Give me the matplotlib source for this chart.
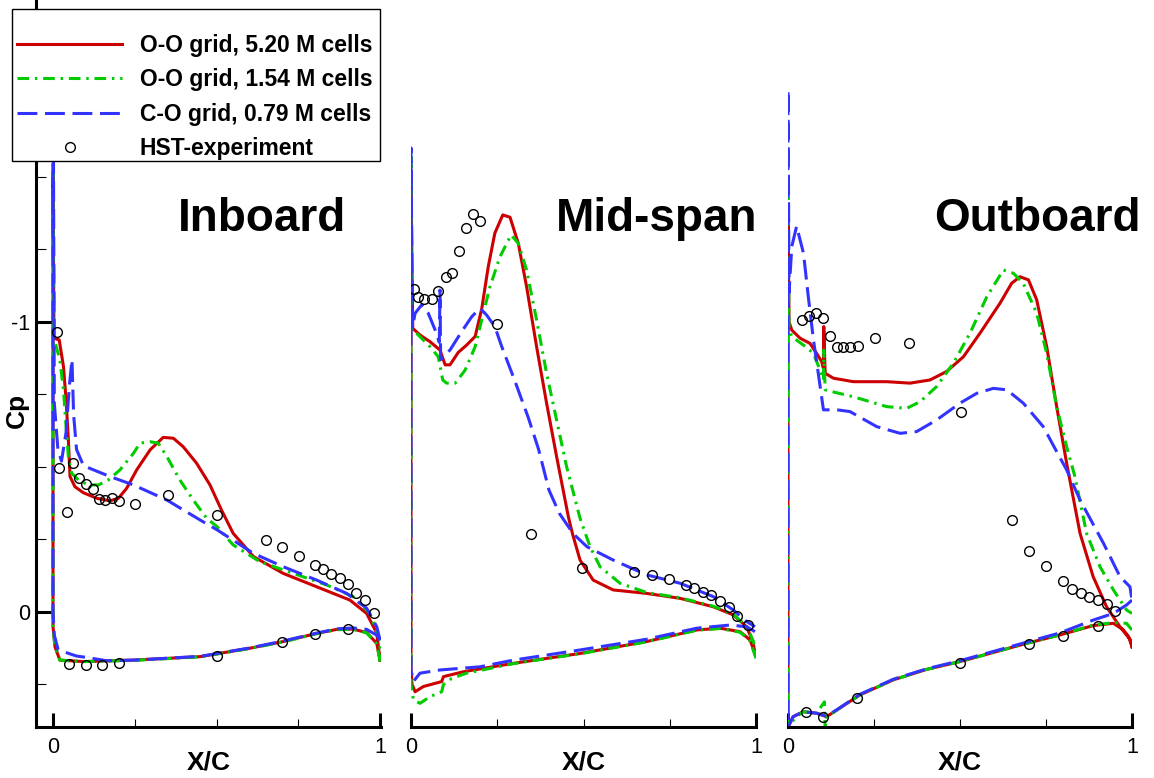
import numpy as np
import matplotlib
matplotlib.use("Agg")
import matplotlib.pyplot as plt
from matplotlib.patches import Rectangle
from matplotlib.ticker import FixedLocator, NullFormatter

plt.rcParams['font.family'] = ['Liberation Sans', 'DejaVu Sans']
plt.rcParams['axes.unicode_minus'] = False

# ---- Inboard section ----
# each curve: lower surface TE -> LE, leading-edge spike, upper surface LE -> TE
inb_fine_x = [1.0, 0.99, 0.959, 0.918, 0.868, 0.806, 0.704, 0.602, 0.45, 0.246, 0.093, 0.021, 0.006, 0.0, 0.0,
              0.003, 0.019, 0.032, 0.040, 0.047, 0.052, 0.067, 0.093, 0.134, 0.174, 0.200, 0.225, 0.256, 0.297,
              0.337, 0.368, 0.398, 0.439, 0.480, 0.515, 0.551, 0.613, 0.704, 0.806, 0.908, 0.959, 0.99, 1.0]
inb_fine_cp = [0.166, 0.108, 0.071, 0.059, 0.060, 0.074, 0.102, 0.125, 0.154, 0.166, 0.171, 0.166, 0.12, 0.05, -1.5,
               -0.944, -0.938, -0.846, -0.731, -0.593, -0.467, -0.432, -0.411, -0.392, -0.383, -0.392, -0.426, -0.490,
               -0.559, -0.602, -0.599, -0.570, -0.513, -0.438, -0.352, -0.271, -0.191, -0.133, -0.087, -0.041, 0.005,
               0.073, 0.166]
inb_mid_x = [1.0, 0.99, 0.959, 0.918, 0.868, 0.806, 0.704, 0.602, 0.45, 0.246, 0.093, 0.021, 0.006, 0.0, 0.0,
             0.003, 0.021, 0.032, 0.040, 0.047, 0.057, 0.078, 0.108, 0.139, 0.169, 0.205, 0.246, 0.266, 0.297,
             0.322, 0.348, 0.388, 0.429, 0.470, 0.502, 0.551, 0.633, 0.735, 0.837, 0.918, 0.969, 1.0, 1.0]
inb_mid_cp = [0.17, 0.11, 0.072, 0.06, 0.061, 0.075, 0.103, 0.126, 0.155, 0.167, 0.171, 0.166, 0.12, 0.05, -1.6,
              -0.944, -0.869, -0.766, -0.639, -0.536, -0.478, -0.455, -0.438, -0.438, -0.455, -0.490, -0.547, -0.582,
              -0.587, -0.582, -0.536, -0.455, -0.386, -0.323, -0.294, -0.231, -0.173, -0.133, -0.093, -0.053, 0.005,
              0.097, 0.17]
inb_co_x = [1.0, 0.99, 0.959, 0.918, 0.868, 0.806, 0.704, 0.602, 0.45, 0.246, 0.164, 0.098, 0.072, 0.016, 0.004,
            0.0, 0.0, 0.004, 0.015, 0.026, 0.040, 0.050, 0.058, 0.063, 0.072, 0.093, 0.113, 0.174, 0.246, 0.348,
            0.45, 0.502, 0.613, 0.704, 0.806, 0.898, 0.959, 0.99, 1.0]
inb_co_cp = [0.097, 0.08, 0.06, 0.055, 0.058, 0.073, 0.10, 0.124, 0.153, 0.166, 0.168, 0.156, 0.152, 0.131, 0.08,
             0.0, -2.05, -0.72, -0.56, -0.52, -0.62, -0.78, -0.87, -0.68, -0.56, -0.505, -0.495, -0.467, -0.438,
             -0.386, -0.317, -0.283, -0.202, -0.156, -0.110, -0.064, -0.013, 0.051, 0.097]
inb_exp_x = [0.011, 0.019, 0.042, 0.060, 0.081, 0.101, 0.121, 0.140, 0.160, 0.180, 0.201, 0.250, 0.352, 0.502,
             0.650, 0.701, 0.751, 0.801, 0.827, 0.851, 0.878, 0.902, 0.928, 0.953, 0.983,
             0.049, 0.101, 0.151, 0.201, 0.502, 0.701, 0.801, 0.902]
inb_exp_cp = [-0.967, -0.495, -0.343, -0.513, -0.461, -0.441, -0.423, -0.390, -0.386, -0.392, -0.384, -0.372,
              -0.403, -0.334, -0.248, -0.225, -0.194, -0.162, -0.147, -0.132, -0.118, -0.095, -0.067, -0.041, 0.005,
              0.179, 0.183, 0.183, 0.177, 0.151, 0.105, 0.077, 0.059]

# ---- Mid-span section ----
mid_fine_x = [0.997, 0.983, 0.954, 0.896, 0.828, 0.683, 0.49, 0.297, 0.152, 0.094, 0.089, 0.036, 0.012, 0.003, 0.0,
              0.0, 0.005, 0.026, 0.055, 0.084, 0.099, 0.113, 0.137, 0.161, 0.186, 0.205, 0.224, 0.243, 0.266, 0.287,
              0.311, 0.335, 0.364, 0.393, 0.422, 0.456, 0.468, 0.49, 0.528, 0.586, 0.683, 0.78, 0.876, 0.934, 0.973,
              0.992, 0.997]
mid_fine_cp = [0.143, 0.097, 0.068, 0.056, 0.062, 0.102, 0.143, 0.177, 0.206, 0.223, 0.240, 0.257, 0.275, 0.25,
               0.20, -1.5, -0.978, -0.955, -0.932, -0.903, -0.852, -0.852, -0.895, -0.920, -0.950, -1.045, -1.191,
               -1.306, -1.369, -1.361, -1.271, -1.122, -0.915, -0.72, -0.536, -0.329, -0.27, -0.179, -0.110, -0.076,
               -0.064, -0.047, -0.018, 0.010, 0.051, 0.108, 0.143]
mid_mid_x = [1.0, 0.983, 0.954, 0.896, 0.828, 0.683, 0.49, 0.297, 0.161, 0.118, 0.094, 0.089, 0.055, 0.026, 0.007,
             0.0, 0.0, 0.002, 0.016, 0.055, 0.079, 0.092, 0.103, 0.128, 0.157, 0.186, 0.205, 0.229, 0.258, 0.29,
             0.311, 0.335, 0.364, 0.393, 0.422, 0.451, 0.49, 0.519, 0.548, 0.606, 0.683, 0.78, 0.876, 0.934, 0.973,
             0.992, 1.0]
mid_mid_cp = [0.16, 0.10, 0.07, 0.057, 0.063, 0.103, 0.144, 0.178, 0.211, 0.229, 0.25, 0.275, 0.292, 0.315, 0.303,
              0.25, -1.58, -0.972, -0.961, -0.915, -0.880, -0.80, -0.789, -0.789, -0.834, -0.915, -1.007, -1.122,
              -1.225, -1.30, -1.271, -1.179, -1.007, -0.823, -0.662, -0.501, -0.323, -0.225, -0.156, -0.099, -0.067,
              -0.049, -0.02, 0.008, 0.05, 0.10, 0.14]
mid_co_x = [0.997, 0.973, 0.925, 0.828, 0.683, 0.49, 0.297, 0.2, 0.084, 0.026, 0.007, 0.0, 0.0,
            0.004, 0.012, 0.031, 0.050, 0.070, 0.082, 0.084, 0.086, 0.092, 0.113, 0.147, 0.176, 0.2, 0.219, 0.243,
            0.263, 0.30, 0.34, 0.37, 0.40, 0.43, 0.47, 0.51, 0.586, 0.683, 0.78, 0.876, 0.934, 0.973, 0.997]
mid_co_cp = [0.068, 0.051, 0.045, 0.056, 0.094, 0.131, 0.166, 0.189, 0.20, 0.211, 0.240, 0.2, -1.60,
             -0.98, -1.030, -1.059, -1.030, -0.972, -0.93, -1.11, -0.87, -0.88, -0.903, -0.967, -1.018, -1.047,
             -1.024, -0.984, -0.915, -0.80, -0.67, -0.56, -0.42, -0.34, -0.27, -0.225, -0.179, -0.128, -0.099,
             -0.053, -0.007, 0.033, 0.051]
mid_exp_x = [0.009, 0.019, 0.039, 0.060, 0.079, 0.100, 0.120, 0.139, 0.159, 0.180, 0.199, 0.249, 0.348, 0.497,
             0.646, 0.698, 0.747, 0.796, 0.821, 0.845, 0.871, 0.896, 0.921, 0.946, 0.977]
mid_exp_cp = [-1.114, -1.087, -1.078, -1.079, -1.108, -1.156, -1.168, -1.245, -1.323, -1.371, -1.348, -0.993,
              -0.269, -0.151, -0.137, -0.126, -0.115, -0.093, -0.084, -0.069, -0.057, -0.039, -0.018, 0.013, 0.045]

# ---- Outboard section ----
out_fine_x = [1.0, 0.99, 0.975, 0.946, 0.887, 0.791, 0.694, 0.50, 0.403, 0.306, 0.209, 0.142, 0.112, 0.083, 0.044,
              0.015, 0.003, 0.0, 0.0, 0.003, 0.011, 0.035, 0.064, 0.083, 0.098, 0.103, 0.104, 0.108, 0.132, 0.19,
              0.287, 0.355, 0.413, 0.461, 0.51, 0.558, 0.616, 0.65, 0.674, 0.699, 0.723, 0.752, 0.781, 0.81, 0.849,
              0.887, 0.926, 0.965, 0.996, 1.0]
out_fine_cp = [0.12, 0.085, 0.062, 0.039, 0.047, 0.079, 0.108, 0.171, 0.198, 0.234, 0.286, 0.338, 0.361, 0.349,
               0.344, 0.361, 0.39, 0.40, -1.40, -1.0, -0.972, -0.944, -0.926, -0.892, -0.863, -0.84, -0.984, -0.823,
               -0.806, -0.794, -0.794, -0.789, -0.80, -0.829, -0.880, -0.961, -1.064, -1.133, -1.156, -1.145, -1.076,
               -0.915, -0.708, -0.513, -0.271, -0.122, -0.018, 0.051, 0.097, 0.12]
out_mid_x = [1.0, 0.984, 0.946, 0.887, 0.791, 0.694, 0.50, 0.403, 0.306, 0.209, 0.142, 0.112, 0.108, 0.106, 0.083,
             0.044, 0.025, 0.003, 0.0, 0.0, 0.003, 0.011, 0.044, 0.074, 0.093, 0.103, 0.104, 0.108, 0.127, 0.19,
             0.287, 0.345, 0.384, 0.432, 0.481, 0.529, 0.578, 0.626, 0.655, 0.684, 0.723, 0.752, 0.781, 0.81, 0.834,
             0.868, 0.907, 0.946, 0.984, 1.0]
out_mid_cp = [0.062, 0.039, 0.037, 0.045, 0.079, 0.108, 0.171, 0.198, 0.234, 0.286, 0.338, 0.361, 0.40, 0.31,
              0.349, 0.344, 0.361, 0.39, 0.40, -1.5, -0.98, -0.949, -0.921, -0.892, -0.834, -0.80, -0.903, -0.766,
              -0.760, -0.742, -0.708, -0.702, -0.725, -0.777, -0.858, -0.961, -1.087, -1.179, -1.168, -1.133, -1.030,
              -0.892, -0.708, -0.570, -0.467, -0.271, -0.156, -0.076, -0.007, 0.005]
out_co_x = [1.0, 0.984, 0.946, 0.887, 0.791, 0.694, 0.50, 0.403, 0.306, 0.209, 0.142, 0.112, 0.083, 0.044, 0.015,
            0.003, 0.0, 0.0, 0.003, 0.011, 0.025, 0.045, 0.059, 0.074, 0.088, 0.103, 0.142, 0.18, 0.258, 0.326,
            0.374, 0.432, 0.50, 0.549, 0.597, 0.636, 0.684, 0.742, 0.781, 0.81, 0.849, 0.917, 0.965, 0.994, 1.0]
out_co_cp = [-0.041, -0.024, 0.005, 0.028, 0.072, 0.104, 0.168, 0.196, 0.232, 0.284, 0.337, 0.36, 0.349, 0.344,
             0.361, 0.39, 0.40, -1.80, -1.10, -1.26, -1.33, -1.237, -1.087, -0.938, -0.823, -0.697, -0.697, -0.691,
             -0.639, -0.616, -0.622, -0.662, -0.720, -0.754, -0.771, -0.766, -0.720, -0.639, -0.553, -0.490, -0.386,
             -0.237, -0.122, -0.087, -0.041]
out_exp_x = [0.042, 0.061, 0.081, 0.103, 0.122, 0.141, 0.161, 0.181, 0.203, 0.252, 0.352, 0.502, 0.652, 0.702,
             0.750, 0.80, 0.826, 0.851, 0.876, 0.90, 0.926, 0.951,
             0.052, 0.103, 0.201, 0.50, 0.702, 0.80, 0.90]
out_exp_cp = [-1.007, -1.022, -1.030, -1.015, -0.952, -0.914, -0.914, -0.915, -0.917, -0.944, -0.929, -0.689,
              -0.317, -0.210, -0.160, -0.107, -0.080, -0.064, -0.053, -0.041, -0.028, -0.003,
              0.344, 0.361, 0.298, 0.175, 0.111, 0.082, 0.047]

labels = ['O-O grid, 5.20 M cells', 'O-O grid, 1.54 M cells', 'C-O grid, 0.79 M cells', 'HST-experiment']
titles = ['Inboard', 'Mid-span', 'Outboard']

RED, GREEN, BLUE = '#CC0000', '#00CC00', '#3333FF'
LW = 2.2

W, H = 1154, 778
fig = plt.figure(figsize=(W / 100, H / 100), dpi=100)

# frame positions in pixels: (left, width, x-range)
frames = [(36, 345, (-0.052, 1.003)), (411, 345, (0.0, 1.0)), (788, 344, (0.0, 1.0))]
data = [
    (inb_fine_x, inb_fine_cp, inb_mid_x, inb_mid_cp, inb_co_x, inb_co_cp, inb_exp_x, inb_exp_cp),
    (mid_fine_x, mid_fine_cp, mid_mid_x, mid_mid_cp, mid_co_x, mid_co_cp, mid_exp_x, mid_exp_cp),
    (out_fine_x, out_fine_cp, out_mid_x, out_mid_cp, out_co_x, out_co_cp, out_exp_x, out_exp_cp),
]
title_pos = [(178, 231), (556, 231), (934, 231)]

handles = None
for i, ((left, width, xr), d) in enumerate(zip(frames, data)):
    ax = fig.add_axes([left / W, (H - 727) / H, width / W, 727 / H])
    ax.patch.set_alpha(0)
    fx, fcp, mx, mcp, cx, ccp, ex, ecp = d
    l1, = ax.plot(fx, fcp, color=RED, lw=LW)
    l2, = ax.plot(mx, mcp, color=GREEN, lw=LW, dashes=(3.8, 1.9, 0.8, 1.9))
    l3, = ax.plot(cx, ccp, color=BLUE, lw=LW, dashes=(6.5, 2.5))
    l4, = ax.plot(ex, ecp, 'o', ms=7, mfc='none', mec='black', mew=1.0, ls='none')
    if handles is None:
        handles = [l1, l2, l3, l4]

    ax.set_xlim(*xr)
    ax.set_ylim(0.3966, -2.110)

    for s in ['top', 'right']:
        ax.spines[s].set_visible(False)
    for s in ['left', 'bottom']:
        ax.spines[s].set_linewidth(2.2)

    ax.xaxis.set_major_locator(FixedLocator([0, 1]))
    ax.xaxis.set_minor_locator(FixedLocator([0.25, 0.5, 0.75]))
    ax.xaxis.set_minor_formatter(NullFormatter())
    ax.tick_params(axis='x', which='major', direction='in', length=10, width=2.2, labelsize=15.5, pad=7)
    ax.tick_params(axis='x', which='minor', direction='in', length=6, width=0.8)

    if i == 0:
        ax.yaxis.set_major_locator(FixedLocator([-1, 0]))
        ax.yaxis.set_minor_locator(FixedLocator(np.arange(-2.0, 0.3, 0.25)))
        ax.yaxis.set_minor_formatter(NullFormatter())
        ax.tick_params(axis='y', which='major', direction='in', length=12, width=2.2, labelsize=15.5, pad=4)
        ax.tick_params(axis='y', which='minor', direction='in', length=7.5, width=0.8)
    else:
        ax.spines['left'].set_visible(False)
        ax.set_yticks([])

    cx_px = left + width / 2
    fig.text(cx_px / W, 1 - 770 / H, 'X/C', fontsize=19, fontweight='bold', ha='center', va='baseline')
    tx, ty = title_pos[i]
    fig.text(tx / W, 1 - ty / H, titles[i], fontsize=33, fontweight='bold', ha='left', va='baseline')

fig.text(17 / W, 1 - 410 / H, 'Cp', fontsize=19, fontweight='bold', rotation=90, ha='center', va='center')

# legend box drawn separately so the empty band above the first entry can be kept
box = Rectangle((12 / W, 1 - 161 / H), 368 / W, 152 / H, transform=fig.transFigure,
                facecolor='white', edgecolor='black', lw=1.0, zorder=4)
fig.add_artist(box)
leg = fig.legend(handles, labels, loc='upper left', bbox_to_anchor=(9 / W, 1 - 26 / H),
                 prop={'weight': 'bold', 'size': 16.5}, frameon=False,
                 handlelength=4.6, handletextpad=0.75, labelspacing=0.5,
                 borderpad=0.35, borderaxespad=0)
leg.set_zorder(5)

fig.savefig('out.png', dpi=100)
